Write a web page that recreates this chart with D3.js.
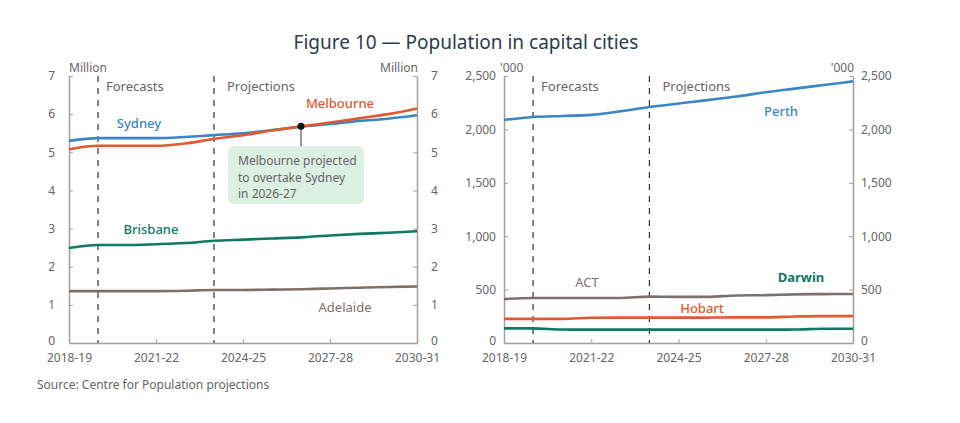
<!DOCTYPE html>
<html>
<head>
<meta charset="utf-8">
<script src="https://cdn.jsdelivr.net/npm/d3@7"></script>
<style>
  body { margin: 0; background: #fff; }
  text { font-family: "Noto Sans", "Open Sans", sans-serif; }
</style>
</head>
<body>
<script>
var w = 960;
var h = 423;

// data
var years = ["2018-19", "2019-20", "2020-21", "2021-22", "2022-23", "2023-24", "2024-25",
             "2025-26", "2026-27", "2027-28", "2028-29", "2029-30", "2030-31"];
var tickYears = ["2018-19", "2021-22", "2024-25", "2027-28", "2030-31"];

// millions
var sydney    = [5.30, 5.37, 5.37, 5.37, 5.40, 5.45, 5.50, 5.58, 5.67, 5.74, 5.82, 5.88, 5.97];
var melbourne = [5.08, 5.17, 5.17, 5.17, 5.23, 5.35, 5.45, 5.57, 5.68, 5.78, 5.89, 6.00, 6.15];
var brisbane  = [2.49, 2.57, 2.57, 2.59, 2.62, 2.68, 2.71, 2.74, 2.77, 2.82, 2.86, 2.89, 2.93];
var adelaide  = [1.36, 1.36, 1.36, 1.36, 1.37, 1.39, 1.39, 1.40, 1.41, 1.43, 1.45, 1.47, 1.48];

// thousands
var perth  = [2088, 2116, 2126, 2136, 2170, 2210, 2242, 2274, 2308, 2348, 2382, 2416, 2450];
var act    = [412, 422, 422, 422, 422, 434, 432, 432, 445, 448, 455, 458, 459];
var hobart = [226, 226, 226, 236, 238, 238, 238, 238, 240, 240, 248, 252, 252];
var darwin = [137, 137, 126, 125, 125, 125, 125, 125, 125, 125, 126, 134, 134];

var leftTicks = [0, 1, 2, 3, 4, 5, 6, 7];
var rightTicks = [0, 500, 1000, 1500, 2000, 2500];

var blue = "#3a86c8", orange = "#e05a2e", teal = "#0e7a64", brown = "#7f706c";
var axisGrey = "#a0a0a0", textGrey = "#666";

var svg = d3.select("body").append("svg")
    .attr("width", w)
    .attr("height", h);

// title
svg.append("text")
    .attr("x", 466)
    .attr("y", 49)
    .attr("text-anchor", "middle")
    .attr("fill", "#2b3c4e")
    .style("font-size", "19px")
    .text("Figure 10 \u2014 Population in capital cities");

function panel(opts) {
    var x = d3.scalePoint().domain(years).range([opts.x0, opts.x1]);
    var y = d3.scaleLinear().domain(opts.domain).range([343, 76]);
    var g = svg.append("g");

    // axes
    var bottom = d3.axisBottom(x).tickValues(tickYears).tickSizeInner(-4).tickSizeOuter(0).tickPadding(10);
    var gb = g.append("g").attr("transform", "translate(0,343)").call(bottom);
    var left = d3.axisLeft(y).tickValues(opts.ticks).tickSizeInner(-4).tickSizeOuter(0).tickPadding(opts.pad).tickFormat(opts.fmt);
    var gl = g.append("g").attr("transform", "translate(" + opts.x0 + ",0)").call(left);
    var right = d3.axisRight(y).tickValues(opts.ticks).tickSizeInner(-4).tickSizeOuter(0).tickPadding(opts.pad).tickFormat(opts.fmt);
    var gr = g.append("g").attr("transform", "translate(" + opts.x1 + ",0)").call(right);
    [gb, gl, gr].forEach(function(a) {
        a.select(".domain").attr("stroke", axisGrey).attr("stroke-width", 1.5);
        a.selectAll(".tick line").attr("stroke", axisGrey);
        a.selectAll(".tick text").attr("fill", textGrey).style("font-size", "12px")
            .style("font-family", "\"Noto Sans\", sans-serif");
    });
    gl.selectAll(".tick line").filter(function(d) { return d === 0; }).remove();
    gr.selectAll(".tick line").filter(function(d) { return d === 0; }).remove();
    gl.selectAll(".tick text").filter(function(d) { return d === 0; }).attr("dy", "0.1em");
    gr.selectAll(".tick text").filter(function(d) { return d === 0; }).attr("dy", "0.1em");

    // dashed lines
    ["2019-20", "2023-24"].forEach(function(yr) {
        g.append("line")
            .attr("x1", x(yr)).attr("x2", x(yr))
            .attr("y1", 76).attr("y2", 343)
            .attr("stroke", "#333")
            .attr("stroke-width", 1.2)
            .attr("stroke-dasharray", "6,6");
    });
    g.append("text").attr("x", x("2019-20") + 8).attr("y", 91)
        .attr("fill", textGrey).style("font-size", "13px").text("Forecasts");
    g.append("text").attr("x", x("2023-24") + 13).attr("y", 91)
        .attr("fill", textGrey).style("font-size", "13px").text("Projections");

    // unit labels
    g.append("text").attr("x", opts.x0 + opts.uOff).attr("y", 72)
        .attr("fill", textGrey).style("font-size", "12px").text(opts.unit);
    g.append("text").attr("x", opts.x1 + 1).attr("y", 72).attr("text-anchor", "end")
        .attr("fill", textGrey).style("font-size", "12px").text(opts.unit);

    var line = d3.line()
        .x(function(d, i) { return x(years[i]); })
        .y(function(d) { return y(d); })
        .curve(d3.curveMonotoneX);

    opts.series.forEach(function(s) {
        g.append("path")
            .datum(s.values)
            .attr("d", line)
            .attr("fill", "none")
            .attr("stroke", s.color)
            .attr("stroke-width", 2.6);
    });
    opts.series.forEach(function(s) {
        g.append("text")
            .attr("x", s.lx).attr("y", s.ly)
            .attr("text-anchor", "middle")
            .attr("fill", s.color)
            .style("font-size", "13px")
            .style("font-weight", s.bold)
            .text(s.name);
    });
    return { x: x, y: y, g: g };
}

var L = panel({
    x0: 69, x1: 417, domain: [0, 7], ticks: leftTicks, pad: 14, unit: "Million", uOff: 0,
    fmt: d3.format("d"),
    series: [
        { name: "Adelaide", values: adelaide, color: brown, lx: 345, ly: 312, bold: 400 },
        { name: "Brisbane", values: brisbane, color: teal, lx: 151, ly: 234, bold: 500 },
        { name: "Sydney", values: sydney, color: blue, lx: 139, ly: 128, bold: 500 },
        { name: "Melbourne", values: melbourne, color: orange, lx: 340, ly: 108, bold: 500 }
    ]
});

var R = panel({
    x0: 504, x1: 853, domain: [0, 2500], ticks: rightTicks, pad: 8, unit: "'000", uOff: -4,
    fmt: d3.format(","),
    series: [
        { name: "Darwin", values: darwin, color: teal, lx: 801, ly: 282, bold: 700 },
        { name: "Hobart", values: hobart, color: orange, lx: 702, ly: 313, bold: 500 },
        { name: "ACT", values: act, color: brown, lx: 587, ly: 287, bold: 400 },
        { name: "Perth", values: perth, color: blue, lx: 781, ly: 116, bold: 500 }
    ]
});

// annotation
var ax = L.x("2026-27");
var ay = L.y(melbourne[8]);
L.g.append("rect")
    .attr("x", 228).attr("y", 146)
    .attr("width", 136).attr("height", 58)
    .attr("rx", 6)
    .attr("fill", "#dbefe3");
L.g.append("line")
    .attr("x1", ax).attr("x2", ax)
    .attr("y1", ay).attr("y2", 146)
    .attr("stroke", "#555").attr("stroke-width", 1.2);
L.g.append("circle")
    .attr("cx", ax).attr("cy", ay).attr("r", 3.5)
    .attr("fill", "#111");
var note = L.g.append("text")
    .attr("x", 238).attr("y", 165)
    .attr("fill", textGrey)
    .style("font-size", "12px");
["Melbourne projected", "to overtake Sydney", "in 2026-27"].forEach(function(t, i) {
    note.append("tspan").attr("x", 238).attr("dy", i === 0 ? 0 : 16.5).text(t);
});

// source
svg.append("text")
    .attr("x", 37).attr("y", 389)
    .attr("fill", textGrey)
    .style("font-size", "12px")
    .text("Source: Centre for Population projections");
</script>
</body>
</html>
